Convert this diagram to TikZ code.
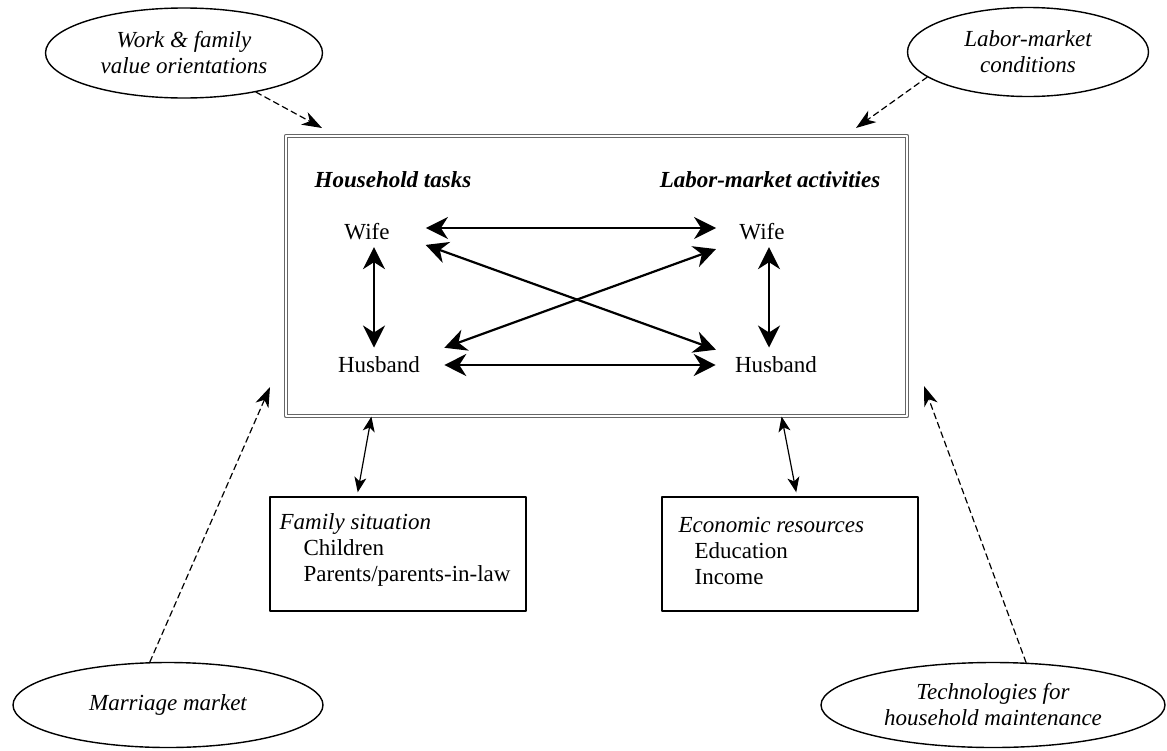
\documentclass[tikz,border=0pt]{standalone}
\usepackage{fontspec}
\setmainfont{Liberation Serif}
\usetikzlibrary{arrows.meta,shapes.geometric}

\newcommand{\dfont}{\fontsize{11.5}{13}\selectfont}

\tikzset{
  outer/.style={draw, line width=0.7pt, ellipse, inner sep=0pt, align=center, font=\dfont\itshape},
  person/.style={inner sep=0pt, font=\dfont},
  heading/.style={inner sep=0pt, font=\dfont\bfseries\itshape},
  subbox/.style={draw, line width=0.8pt, minimum width=128pt, minimum height=57pt, inner sep=0pt},
  boxtext/.style={anchor=north west, align=left, inner sep=0pt, font=\dfont},
  bigarrow/.style={line width=1.1pt, >={Stealth[length=11pt,width=11pt,inset=3.5pt]}, <->},
  thinarrow/.style={line width=0.6pt, >={Stealth[length=7.5pt,width=6pt,inset=2pt]}, <->},
  dasharrow/.style={line width=0.6pt, dash pattern=on 3pt off 2pt, -{Stealth[length=10pt,width=7pt,inset=3pt]}}
}

\begin{document}
\begin{tikzpicture}[x=0.5pt, y=-0.5pt, line cap=round, line join=round]
\useasboundingbox (0,0) rectangle (1167,750);

% outside influences
\node[outer, minimum width=138.5pt, minimum height=45pt] (values) at (184,53) {Work \& family\\value orientations};
\node[outer, minimum width=120.5pt, minimum height=44.5pt] (labcond) at (1028,52) {Labor-market\\conditions};
\node[outer, minimum width=155pt, minimum height=42.5pt] (marriage) at (168,705) {Marriage market};
\node[outer, minimum width=172pt, minimum height=42.5pt] (techno) at (993,705) {Technologies for\\household maintenance};

% the couple
\node[draw=black!60, double, double distance=1pt, line width=0.6pt,
      minimum width=310.5pt, minimum height=140pt, inner sep=0pt] (core) at (596.5,276) {};
\node[heading] (hhtasks) at (393,180) {Household tasks};
\node[heading] (lmacts) at (770,180) {Labor-market activities};

\node[person] (wifeH) at (367,232) {Wife};
\node[person] (husbH) at (379,365) {Husband};
\node[person] (wifeL) at (762,232) {Wife};
\node[person] (husbL) at (776,365) {Husband};

\draw[bigarrow, shorten <=18pt, shorten >=11.5pt] ([yshift=2pt]wifeH.east) -- ([yshift=2pt]wifeL.west);
\draw[bigarrow, shorten <=12pt, shorten >=9.5pt] (husbH.east) -- (husbL.west);
\draw[bigarrow, shorten <=19pt, shorten >=10pt] (wifeH.east) -- (husbL.north west);
\draw[bigarrow, shorten <=12.8pt, shorten >=12.3pt] (husbH.north east) -- (wifeL.south west);
\draw[bigarrow, shorten <=3.25pt, shorten >=4.5pt] ([xshift=3.5pt]wifeH.south) -- ([xshift=-2.5pt]husbH.north);
\draw[bigarrow, shorten <=3.25pt, shorten >=4.5pt] ([xshift=3.5pt]wifeL.south) -- ([xshift=-3.5pt]husbL.north);

% resources
\node[subbox] (family) at (398,554) {};
\node[boxtext] (familytxt) at ([xshift=5pt,yshift=-8.5pt]family.north west)
  {\textit{Family situation}\\\hspace*{12pt}Children\\\hspace*{12pt}Parents/parents-in-law};
\node[subbox] (econ) at (790,554) {};
\node[boxtext] (econtxt) at ([xshift=8.5pt,yshift=-10.5pt]econ.north west)
  {\textit{Economic resources}\\\hspace*{8pt}Education\\\hspace*{8pt}Income};

\draw[thinarrow, shorten >=2pt] ([xshift=43pt]core.south west) -- ([xshift=-20.5pt]family.north);
\draw[thinarrow, shorten >=2pt] ([xshift=-63pt]core.south east) -- ([xshift=3.5pt]econ.north);

% dashed influences
\coordinate (tipA) at (322,128);
\coordinate (tipB) at (856,128);
\coordinate (tipC) at (270,387);
\coordinate (tipD) at (924,386);
\draw[dasharrow] (values) -- (tipA);
\draw[dasharrow] (labcond.194) -- (tipB);
\draw[dasharrow] (marriage.113) -- (tipC);
\draw[dasharrow] (techno.52) -- (tipD);

\end{tikzpicture}
\end{document}
